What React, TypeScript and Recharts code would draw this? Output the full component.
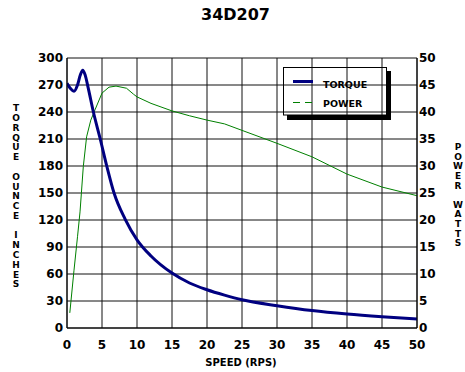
import React from 'react';
import { LineChart, Line, CartesianGrid, XAxis, YAxis } from 'recharts';

// speed in RPS, torque in ounce-inches, power in watts
const torqueSpeed = [0, 0.5, 1, 1.5, 1.9, 2.25, 2.6, 3.05, 3.77, 4.75, 5.68, 6.72, 8.3, 10, 12, 15, 17.5, 20, 22.5, 25, 30, 35, 40, 45, 50];
const torqueValues = [272, 266, 263, 270, 281, 286.5, 281, 266, 240, 210, 180, 150, 121, 98, 80, 61, 50, 42.5, 36.5, 31.3, 24.8, 19.4, 15.5, 12.5, 10];

const powerSpeed = [0.4, 1, 1.5, 1.86, 2.33, 2.8, 3.4, 4, 5, 6, 7, 8.5, 9.5, 10, 12, 15, 17.5, 20, 22.5, 25, 30, 35, 40, 45, 50];
const powerValues = [2.8, 10.7, 16.9, 21.5, 29.9, 35.4, 38.5, 40.4, 43.5, 44.6, 44.8, 44.4, 43.3, 42.8, 41.6, 40.2, 39.3, 38.5, 37.8, 36.6, 34.2, 31.7, 28.5, 26.1, 24.5];

const speedTicks = [0, 5, 10, 15, 20, 25, 30, 35, 40, 45, 50];
const torqueTicks = [0, 30, 60, 90, 120, 150, 180, 210, 240, 270, 300];
const powerTicks = [0, 5, 10, 15, 20, 25, 30, 35, 40, 45, 50];

const leftLabel = 'TORQUE OUNCE INCHES';
const rightLabel = 'POWER WATTS';

const torqueData = torqueSpeed.map((s, i) => ({ speed: s, torque: torqueValues[i] }));
const powerData = powerSpeed.map((s, i) => ({ speed: s, power: powerValues[i] }));

const font = '"DejaVu Sans", Arial, sans-serif';
const tick = { fill: '#000', fontSize: 12, fontWeight: 'bold', fontFamily: font };

function StackedLabel({ text, x, y0, step }: { text: string; x: number; y0: number; step: number }) {
  return (
    <>
      {text.split('').map((ch, i) =>
        ch === ' ' ? null : (
          <text key={i} x={x} y={y0 + i * step + 3.3} textAnchor="middle" fontSize={9} fontWeight="bold" fontFamily={font}>
            {ch}
          </text>
        ),
      )}
    </>
  );
}

export default function App() {
  return (
    <div style={{ position: 'absolute', left: 0, top: 0, width: 465, height: 372, background: '#fff' }}>
      <LineChart width={465} height={372} margin={{ top: 58, right: 8, left: 17, bottom: 14 }}>
        <CartesianGrid stroke="#111" strokeWidth={1} yAxisId="left" />
        <XAxis
          type="number"
          dataKey="speed"
          domain={[0, 50]}
          ticks={speedTicks}
          height={30}
          tick={tick}
          tickLine={false}
          tickSize={10}
          tickMargin={2}
          axisLine={{ stroke: '#000' }}
          allowDataOverflow
        />
        <YAxis
          yAxisId="left"
          domain={[0, 300]}
          ticks={torqueTicks}
          width={50}
          tick={tick}
          tickLine={false}
          tickSize={4}
          tickMargin={0}
          axisLine={{ stroke: '#000' }}
        />
        <YAxis
          yAxisId="right"
          orientation="right"
          domain={[0, 50]}
          ticks={powerTicks}
          width={40}
          tick={{ ...tick, textAnchor: 'start' }}
          tickLine={false}
          tickSize={2}
          tickMargin={0}
          axisLine={{ stroke: '#000' }}
        />
        <Line
          yAxisId="right"
          data={powerData}
          dataKey="power"
          type="linear"
          stroke="#008000"
          strokeWidth={1}
          dot={false}
          isAnimationActive={false}
        />
        <Line
          yAxisId="left"
          data={torqueData}
          dataKey="torque"
          type="monotone"
          stroke="#000080"
          strokeWidth={3}
          dot={false}
          isAnimationActive={false}
        />
      </LineChart>
      <svg width={465} height={372} style={{ position: 'absolute', left: 0, top: 0, pointerEvents: 'none' }}>
        <text x={235.5} y={20} textAnchor="middle" fontSize={16} fontWeight="bold" fontFamily={font}>
          34D207
        </text>
        <text x={241} y={366} textAnchor="middle" fontSize={10} fontWeight="bold" fontFamily={font}>
          SPEED (RPS)
        </text>
        <StackedLabel text={leftLabel} x={16} y0={108} step={9.78} />
        <StackedLabel text={rightLabel} x={458} y0={146.7} step={9.63} />
        {/* legend */}
        <rect x={387} y={71} width={4} height={49} fill="#000" />
        <rect x={287} y={115} width={104} height={5} fill="#000" />
        <rect x={283.5} y={67.5} width={103} height={47.5} fill="none" stroke="#000" strokeWidth={1} />
        <line x1={293} y1={81.5} x2={313} y2={81.5} stroke="#000080" strokeWidth={3} />
        <text x={323} y={88} fontSize={9.5} fontWeight="bold" fontFamily={font}>
          TORQUE
        </text>
        <line x1={293} y1={102.5} x2={313} y2={102.5} stroke="#008000" strokeWidth={1} strokeDasharray="7 5" />
        <text x={323} y={106.5} fontSize={9.5} fontWeight="bold" fontFamily={font}>
          POWER
        </text>
      </svg>
    </div>
  );
}
